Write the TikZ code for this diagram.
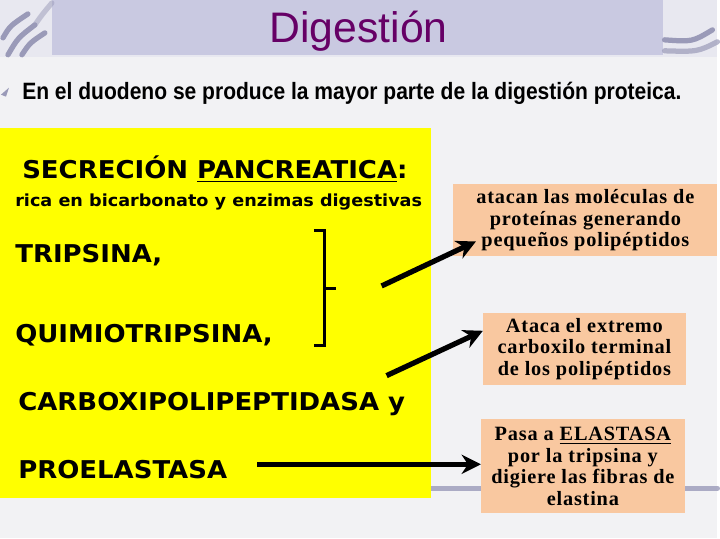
\documentclass[tikz,border=0pt]{standalone}
\usepackage{fontspec}
\setmainfont{Liberation Serif}
\newfontfamily\titlefont{Liberation Sans}
\newfontfamily\narrowfont[FakeStretch=0.89]{Liberation Sans}
\newfontfamily\enzfont[FakeStretch=1.06]{DejaVu Sans}
\newfontfamily\notefont[LetterSpace=4]{Liberation Serif}
\usetikzlibrary{arrows.meta}

\definecolor{fondo}{HTML}{F2F2F4}
\definecolor{franja}{HTML}{E8E8F0}
\definecolor{banda}{HTML}{C9C9E1}
\definecolor{titulo}{HTML}{660066}
\definecolor{amarillo}{HTML}{FFFF00}
\definecolor{salmon}{HTML}{F9C8A0}
\definecolor{trazo}{HTML}{9A9AB8}

\tikzset{
  enzima/.style={anchor=base west,inner sep=0pt,
    font=\enzfont\bfseries\fontsize{14}{16}\selectfont},
  nota/.style={fill=salmon,align=center,inner sep=0pt,
    font=\notefont\bfseries\fontsize{11.6}{12.3}\selectfont},
  flecha/.style={line width=3pt,-{Stealth[length=11pt,width=11pt]}},
  adorno/.style={trazo,line width=3pt,line cap=round}
}

\begin{document}
\begin{tikzpicture}[x=0.02cm,y=-0.02cm]
      % fondo y cabecera
      \fill[fondo] (0,0) rectangle (720,540) ;
      \fill[franja] (0,0) rectangle (720,57) ;
      \fill[banda] (52,0) rectangle (665,55) ;
      \draw[adorno] (3,38) .. controls (10,26) .. (28,14) ;
      \draw[adorno] (8,55) .. controls (18,38) .. (35,25) ;
      \draw[adorno,opacity=0.5] (35,25) .. controls (42,15) .. (52,3) ;
      \draw[adorno] (22,55) .. controls (30,43) .. (45,33) ;
      \draw[adorno] (667,40) .. controls (695,42) .. (715,30) ;
      \draw[adorno,opacity=0.7] (667,51) .. controls (700,52) .. (720,42) ;
      \draw[adorno,opacity=0.8] (433,490) -- (720,490) ;
      \node[font=\titlefont\fontsize{24.4}{28}\selectfont,text=titulo,
        anchor=base,inner sep=0pt] (tit) at (360,43) {Digestión} ;
      % texto principal
      \fill[trazo] (1,95) -- (9,88) -- (6,97) -- cycle ;
      \node[anchor=base west,inner sep=0pt,
        font=\narrowfont\bfseries\fontsize{13.5}{16}\selectfont]
        (intro) at (22,100) {En el duodeno se produce la mayor parte de la digestión proteica.} ;
      % recuadro amarillo
      \fill[amarillo] (0,128) rectangle (433,500) ;
      \node[enzima] (secr) at (22,179) {SECRECIÓN \underline{PANCREATICA}:} ;
      \node[enzima,font=\enzfont\bfseries\fontsize{9.5}{12}\selectfont]
        (rica) at (15,207) {rica en bicarbonato y enzimas digestivas} ;
      \node[enzima] (trip) at (15,263) {TRIPSINA,} ;
      \node[enzima] (quim) at (15,344) {QUIMIOTRIPSINA,} ;
      \node[enzima] (carb) at (18,412) {CARBOXIPOLIPEPTIDASA y} ;
      \node[enzima] (proel) at (18,480) {PROELASTASA} ;
      % llave
      \draw[line width=1.7pt] (315,231) -- (326,231) -- (326,347) -- (315,347) ;
      \draw[line width=1.7pt] (326,290) -- (337,290) ;
      % recuadros de la derecha
      \node[nota,minimum width=265*0.02cm,minimum height=72*0.02cm]
        (n1) at (587.5,221) {atacan las moléculas de\\proteínas generando\\pequeños polipéptidos} ;
      \node[nota,minimum width=203*0.02cm,minimum height=72*0.02cm]
        (n2) at (586.5,350) {Ataca el extremo\\carboxilo terminal\\de los polipéptidos} ;
      \node[nota,minimum width=204*0.02cm,minimum height=94*0.02cm]
        (n3) at (585,468) {Pasa a \underline{ELASTASA}\\por la tripsina y\\digiere las fibras de\\elastina} ;
      % flechas
      \coordinate (a1) at (383,287) ;
      \coordinate (a2) at (388,377) ;
      \coordinate (a3) at (258,466) ;
      \draw[flecha] (a1) -- ([xshift=23*0.02cm,yshift=15*0.02cm]n1.south west) ;
      \draw[flecha] (a2) -- ([yshift=18*0.02cm]n2.west) ;
      \draw[flecha] (a3) -- (a3 -| n3.west) ;
    \end{tikzpicture}
\end{document}
